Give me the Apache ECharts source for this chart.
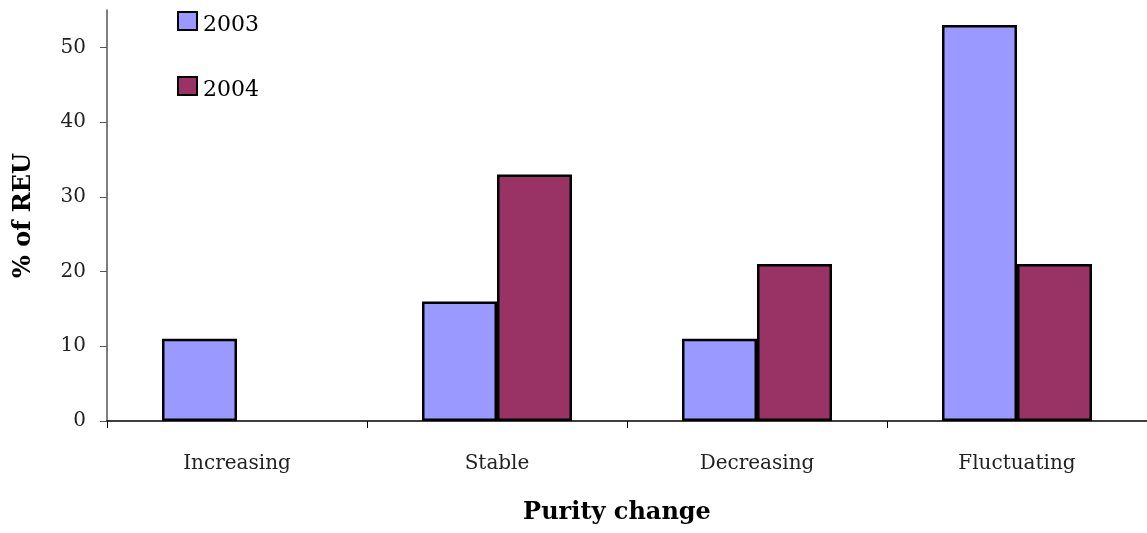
<!DOCTYPE html>
<html><head><meta charset="utf-8">
<script src="https://cdn.jsdelivr.net/npm/echarts@6/dist/echarts.min.js"></script>
<style>html,body{margin:0;padding:0;background:#fff;overflow:hidden}#c{width:1147px;height:533px}</style>
</head><body><div id="c"></div>
<script>
const categories = ['Increasing', 'Stable', 'Decreasing', 'Fluctuating'];
const series2003 = [11, 16, 11, 53];
const series2004 = [0, 33, 21, 21];
const seriesNames = ['2003', '2004'];
const xTitle = 'Purity change';
const yTitle = '% of REU';

const serif = '"DejaVu Serif", "Liberation Serif", serif';
const hideZero = arr => arr.map(v => (v === 0 ? '-' : v));
const chart = echarts.init(document.getElementById('c'), null, {renderer: 'canvas'});
chart.setOption({
  animation: false,
  backgroundColor: '#fff',
  grid: {left: 107, right: 0, top: 10, bottom: 112, containLabel: false, outerBoundsMode: 'none'},
  legend: {
    orient: 'vertical', left: 177, top: 11, itemGap: 40, padding: 0,
    itemWidth: 19, itemHeight: 18, icon: 'rect',
    formatter: '{t|{name}}',
    textStyle: {fontFamily: serif, fontSize: 22, color: '#000',
      rich: {t: {fontFamily: serif, fontSize: 22, color: '#000', padding: [8, 0, 0, 1]}}},
    data: seriesNames
  },
  xAxis: {
    type: 'category', data: categories,
    axisLine: {lineStyle: {color: '#000', width: 1.5}},
    axisTick: {show: true, length: 7, lineStyle: {color: '#000'}},
    axisLabel: {fontFamily: serif, fontSize: 20, color: '#222', margin: 33},
    name: xTitle, nameLocation: 'middle', nameGap: 80,
    nameTextStyle: {fontFamily: serif, fontSize: 24, fontWeight: 'bold', color: '#000', padding: [0, 20, 0, 0]}
  },
  yAxis: {
    type: 'value', min: 0, max: 55, interval: 10,
    splitLine: {show: false},
    axisLine: {show: true, lineStyle: {color: '#555', width: 1.5}},
    axisTick: {show: true, length: 7, lineStyle: {color: '#555'}},
    axisLabel: {fontFamily: serif, fontSize: 20, color: '#222', margin: 21, showMaxLabel: false,
      formatter: v => (v % 10 === 0 ? String(v) : '')},
    name: yTitle, nameLocation: 'middle', nameGap: 71, nameRotate: 90,
    nameTextStyle: {fontFamily: serif, fontSize: 24, fontWeight: 'bold', color: '#000'}
  },
  series: [
    {name: seriesNames[0], type: 'bar', data: hideZero(series2003), barWidth: 75, barGap: '0%',
      itemStyle: {color: '#9999FF', borderColor: '#000', borderWidth: 2.5}},
    {name: seriesNames[1], type: 'bar', data: hideZero(series2004), barWidth: 75, barGap: '0%',
      itemStyle: {color: '#993366', borderColor: '#000', borderWidth: 2.5}}
  ]
});
</script></body></html>
